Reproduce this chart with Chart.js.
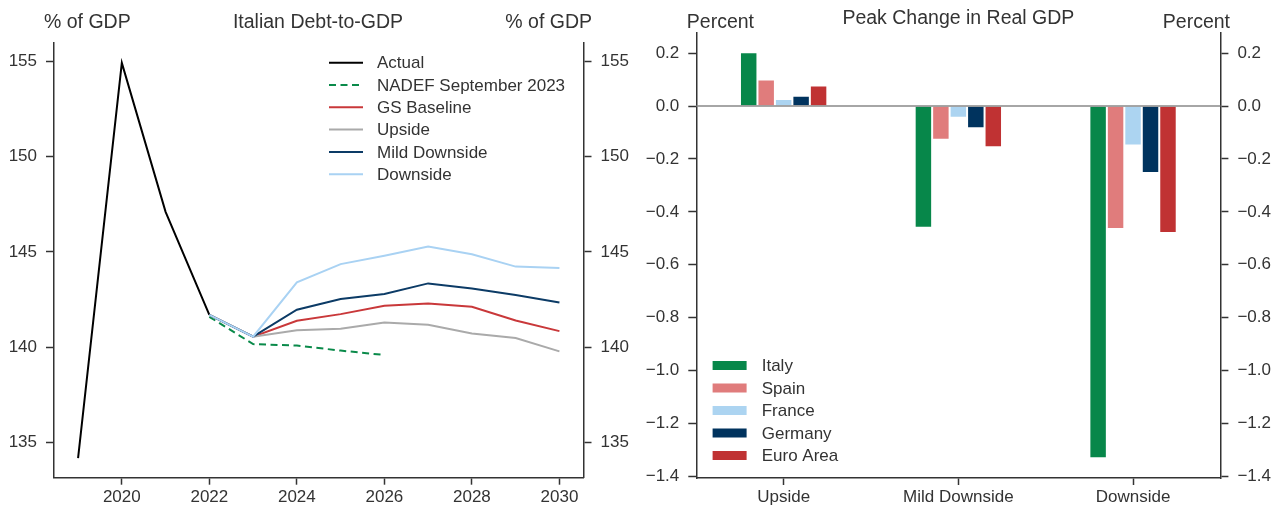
<!DOCTYPE html>
<html>
<head>
<meta charset="utf-8">
<script src="https://cdn.jsdelivr.net/npm/chart.js@4.4.1/dist/chart.umd.min.js"></script>
<style>
  body { margin: 0; background: #fff; }
  #wrap { position: relative; width: 1279px; height: 508px; }
  canvas { position: absolute; top: 0; }
</style>
</head>
<body>
<div id="wrap">
  <canvas id="debt" width="640" height="508" style="left:0"></canvas>
  <canvas id="gdp" width="639" height="508" style="left:640px"></canvas>
</div>
<script>
// left panel: Italian debt-to-GDP, % of GDP
const years = [2019, 2020, 2021, 2022, 2023, 2024, 2025, 2026, 2027, 2028, 2029, 2030];
const actual     = [134.2, 154.9, 147.1, 141.7, null, null, null, null, null, null, null, null];
const nadef      = [null, null, null, 141.6, 140.17, 140.09, 139.83, 139.6, null, null, null, null];
const gsBaseline = [null, null, null, 141.7, 140.56, 141.39, 141.74, 142.18, 142.3, 142.13, 141.41, 140.85];
const upside     = [null, null, null, 141.7, 140.56, 140.9, 140.98, 141.3, 141.18, 140.73, 140.49, 139.79];
const mildDown   = [null, null, null, 141.7, 140.56, 141.97, 142.53, 142.8, 143.35, 143.08, 142.74, 142.35];
const downside   = [null, null, null, 141.7, 140.56, 143.4, 144.36, 144.8, 145.28, 144.88, 144.23, 144.15];
const debtTicksY = [135, 140, 145, 150, 155];
const debtTicksX = [2020, 2022, 2024, 2026, 2028, 2030];

// right panel: peak change in real GDP, percent
const scenarios = ['Upside', 'Mild Downside', 'Downside'];
const italy    = [0.204, -0.46, -1.332];
const spain    = [0.101, -0.127, -0.465];
const france   = [0.027, -0.044, -0.149];
const germany  = [0.039, -0.084, -0.253];
const euroArea = [0.078, -0.156, -0.48];
const gdpTicks = [-1.4, -1.2, -1.0, -0.8, -0.6, -0.4, -0.2, 0.0, 0.2];

const FONT = '"Liberation Sans", Arial, sans-serif';
const INK = '#333333';

Chart.defaults.font.family = FONT;
Chart.defaults.font.size = 17;
Chart.defaults.color = INK;

function pts(arr) {
  return years.map((yr, i) => ({ x: yr, y: arr[i] })).filter(p => p.y !== null);
}

function fixTicks(list) {
  return scale => { scale.ticks = list.map(v => ({ value: v })); };
}

function axisStyle(tl) {
  return {
    grid: { offset: false, drawOnChartArea: false, drawTicks: true, tickLength: tl, tickWidth: 1.5, tickColor: INK },
    border: { display: true, color: INK, width: 1.5 }
  };
}

// titles + hand drawn legend
const panelText = {
  id: 'panelText',
  afterDraw(chart, args, opts) {
    const ctx = chart.ctx;
    ctx.save();
    ctx.fillStyle = INK;
    ctx.font = '19.5px ' + FONT;
    ctx.textBaseline = 'alphabetic';
    opts.titles.forEach(t => {
      ctx.textAlign = t.align;
      ctx.fillText(t.text, t.x, t.y);
    });
    const lg = opts.legend;
    ctx.font = '17px ' + FONT;
    ctx.textBaseline = 'middle';
    ctx.textAlign = 'left';
    chart.data.datasets.forEach((ds, i) => {
      const y = lg.y + i * lg.step;
      if (lg.kind === 'line') {
        ctx.strokeStyle = ds.borderColor;
        ctx.lineWidth = 2;
        ctx.setLineDash(ds.borderDash || []);
        ctx.beginPath();
        ctx.moveTo(lg.x, y);
        ctx.lineTo(lg.x + 34, y);
        ctx.stroke();
        ctx.setLineDash([]);
      } else {
        ctx.fillStyle = ds.backgroundColor;
        ctx.fillRect(lg.x, y - 4.5, 34, 9);
      }
      ctx.fillStyle = INK;
      ctx.fillText(ds.label, lg.textX, y + 1);
    });
    ctx.restore();
  }
};

const zeroLine = {
  id: 'zeroLine',
  afterDatasetsDraw(chart) {
    const ctx = chart.ctx;
    const y = chart.scales.y.getPixelForValue(0);
    ctx.save();
    ctx.strokeStyle = '#888888';
    ctx.lineWidth = 1.5;
    ctx.beginPath();
    ctx.moveTo(chart.chartArea.left, y);
    ctx.lineTo(chart.chartArea.right, y);
    ctx.stroke();
    ctx.restore();
  }
};

const lineSeries = [
  ['Actual', actual, '#000000', []],
  ['NADEF September 2023', nadef, '#0a8a4a', [7, 4.5]],
  ['GS Baseline', gsBaseline, '#c9383a', []],
  ['Upside', upside, '#aaaaaa', []],
  ['Mild Downside', mildDown, '#0c3b66', []],
  ['Downside', downside, '#a9d2f3', []]
];

new Chart(document.getElementById('debt'), {
  type: 'line',
  data: {
    datasets: lineSeries.map((s, i) => ({
      label: s[0],
      data: pts(s[1]),
      borderColor: s[2],
      borderDash: s[3],
      borderWidth: 2,
      pointRadius: 0,
      tension: 0,
      fill: false,
      order: lineSeries.length - i
    }))
  },
  options: {
    responsive: false,
    animation: false,
    devicePixelRatio: 1,
    layout: { padding: { top: 42.7, left: 0, right: 0, bottom: 0 } },
    plugins: {
      legend: { display: false },
      tooltip: { enabled: false },
      panelText: {
        titles: [
          { text: '% of GDP', x: 44, y: 28, align: 'left' },
          { text: 'Italian Debt-to-GDP', x: 318, y: 28, align: 'center' },
          { text: '% of GDP', x: 592, y: 28, align: 'right' }
        ],
        legend: { kind: 'line', x: 329, textX: 377, y: 62.7, step: 22.3 }
      }
    },
    scales: {
      x: {
        type: 'linear', min: 2018.45, max: 2030.55,
        afterBuildTicks: fixTicks(debtTicksX),
        afterFit: s => { s.height = 30.3; },
        ticks: { padding: 2, callback: v => String(v) },
        ...axisStyle(7)
      },
      y: {
        position: 'left', min: 133.17, max: 155.96,
        afterBuildTicks: fixTicks(debtTicksY),
        afterFit: s => { s.width = 54; },
        ticks: { padding: 9, callback: v => String(v) },
        ...axisStyle(8)
      },
      y2: {
        position: 'right', min: 133.17, max: 155.96,
        afterBuildTicks: fixTicks(debtTicksY),
        afterFit: s => { s.width = 56.5; },
        ticks: { padding: 9, callback: v => String(v) },
        ...axisStyle(8)
      }
    }
  },
  plugins: [panelText]
});

const barSeries = [
  ['Italy', italy, '#07874a'],
  ['Spain', spain, '#e07c7c'],
  ['France', france, '#acd4f1'],
  ['Germany', germany, '#00335e'],
  ['Euro Area', euroArea, '#c03233']
];

const pctLabel = v => (v < 0 ? '\u2212' : '') + Math.abs(v).toFixed(1);

new Chart(document.getElementById('gdp'), {
  type: 'bar',
  data: {
    labels: scenarios,
    datasets: barSeries.map(s => ({
      label: s[0],
      data: s[1],
      backgroundColor: s[2],
      borderColor: '#ffffff',
      borderWidth: 1,
      categoryPercentage: 0.5,
      barPercentage: 1.0
    }))
  },
  options: {
    responsive: false,
    animation: false,
    devicePixelRatio: 1,
    layout: { padding: { top: 33, left: 0, right: 0, bottom: 0 } },
    plugins: {
      legend: { display: false },
      tooltip: { enabled: false },
      panelText: {
        titles: [
          { text: 'Percent', x: 46.8, y: 28, align: 'left' },
          { text: 'Peak Change in Real GDP', x: 318.4, y: 23.5, align: 'center' },
          { text: 'Percent', x: 590, y: 28, align: 'right' }
        ],
        legend: { kind: 'box', x: 72.6, textX: 121.7, y: 365.5, step: 22.5 }
      }
    },
    scales: {
      x: {
        offset: true,
        afterFit: s => { s.height = 30; },
        ticks: { padding: 2 },
        ...axisStyle(7)
      },
      y: {
        position: 'left', min: -1.4065, max: 0.2765,
        afterBuildTicks: fixTicks(gdpTicks),
        afterFit: s => { s.width = 56.3; },
        ticks: { padding: 9, callback: pctLabel },
        ...axisStyle(8)
      },
      y2: {
        position: 'right', min: -1.4065, max: 0.2765,
        afterBuildTicks: fixTicks(gdpTicks),
        afterFit: s => { s.width = 58.6; },
        ticks: { padding: 9, callback: pctLabel },
        ...axisStyle(8)
      }
    }
  },
  plugins: [zeroLine, panelText]
});
</script>
</body>
</html>
